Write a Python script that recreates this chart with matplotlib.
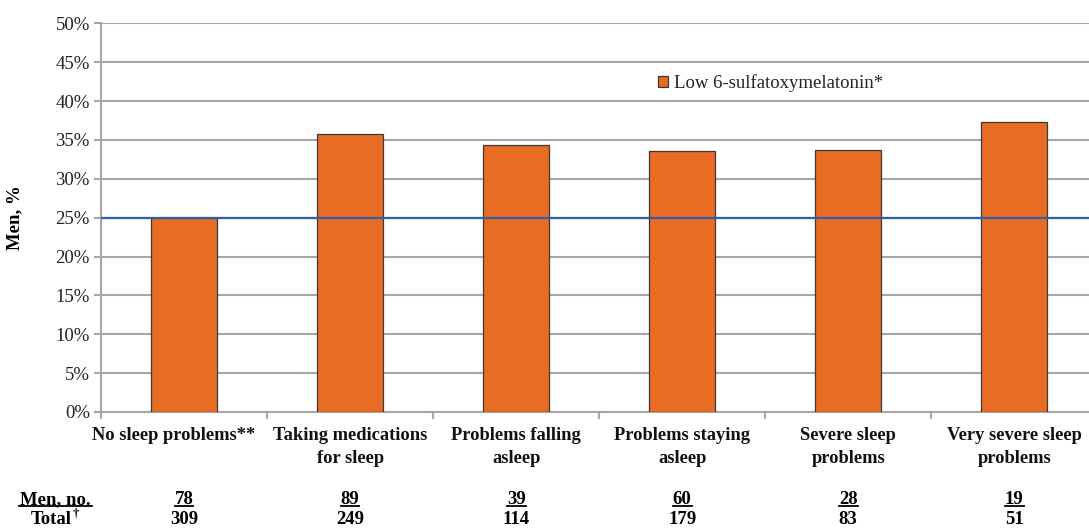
import matplotlib
matplotlib.use('Agg')
import matplotlib.pyplot as plt
from matplotlib.lines import Line2D
import numpy as np

plt.rcParams['font.family'] = ['Liberation Serif', 'DejaVu Serif']

categories = ['No sleep problems**', 'Taking medications\nfor sleep',
              'Problems falling\nasleep', 'Problems staying\nasleep',
              'Severe sleep\nproblems', 'Very severe sleep\nproblems']
low_melatonin = [25.0, 35.8, 34.3, 33.55, 33.75, 37.3]
men_no = ['78', '89', '39', '60', '28', '19']
totals = ['309', '249', '114', '179', '83', '51']
reference_line = 25.0
y_ticks = [0, 5, 10, 15, 20, 25, 30, 35, 40, 45, 50]

W, H = 1089, 528
fig = plt.figure(figsize=(W / 100, H / 100), dpi=100)
ax = fig.add_axes([101 / W, 1 - 412 / H, 1 - 101 / W, (412 - 23.3) / H])

x = np.arange(len(categories))
ax.bar(x, low_melatonin, width=0.4, color='#E86C23', edgecolor='#3a3a3a',
       linewidth=0.9, label='Low 6-sulfatoxymelatonin*', zorder=3)
ax.axhline(reference_line, color='#2F5FA5', linewidth=1.6, zorder=4)

ax.set_ylim(0, 50)
ax.set_xlim(-0.5, 5.45)
ax.set_yticks(y_ticks)
ax.set_yticklabels([f'{t}%' for t in y_ticks], fontsize=13.5, color='#222222')
ax.yaxis.grid(True, color='#a6a6a6', linewidth=1.5, zorder=0)
ax.set_axisbelow(True)

# category boundaries get the tick marks, labels sit at the bar centres
ax.set_xticks(np.arange(-0.5, 5.5, 1.0))
ax.set_xticklabels([])
ax.tick_params(axis='x', which='major', length=5, color='#a6a6a6', width=1.5)
ax.tick_params(axis='y', length=5, color='#a6a6a6', width=1.5, pad=3)

label_offsets = [-0.06, 0, 0, 0, 0, 0]
trans = ax.get_xaxis_transform()
for xi, lab, off in zip(x, categories, label_offsets):
    ax.text(xi + off, -(427 - 412) / 388.7, lab, transform=trans, ha='center',
            va='top', fontsize=13.3, fontweight='bold', linespacing=1.45,
            color='#111111')

for side in ['top', 'right']:
    ax.spines[side].set_visible(False)
for side in ['left', 'bottom']:
    ax.spines[side].set_color('#a6a6a6')
    ax.spines[side].set_linewidth(1.5)

ax.set_ylabel('Men, %', fontsize=13.5, fontweight='bold')
ax.yaxis.set_label_coords(-78 / 988, 0.5)

ax.legend(loc='center left', bbox_to_anchor=(649 / W, 1 - 83 / H),
          bbox_transform=fig.transFigure, frameon=False, fontsize=13.5,
          handlelength=0.5, handleheight=0.5, handletextpad=0.35, borderpad=0,
          labelcolor='#222222')

# table rows under the chart
row1_y = -(500 - 412) / 388.7
row2_y = -(520 - 412) / 388.7
underlined = []
t = ax.text((55.5 - 101) / 166 - 0.5, row1_y, 'Men, no.', transform=trans,
            ha='center', va='center', fontsize=13.5, fontweight='bold')
underlined.append(t)
ax.text((51 - 101) / 166 - 0.5, row2_y, 'Total', transform=trans,
        ha='center', va='center', fontsize=13.5, fontweight='bold')
ax.text((75.5 - 101) / 166 - 0.5, row2_y + 0.018, '\u2020', transform=trans,
        ha='center', va='center', fontsize=9, fontweight='bold')
for xi, n, tot in zip(x, men_no, totals):
    t = ax.text(xi, row1_y, n, transform=trans, ha='center', va='center',
                fontsize=13.5, fontweight='bold')
    underlined.append(t)
    ax.text(xi, row2_y, tot, transform=trans, ha='center', va='center',
            fontsize=13.5, fontweight='bold')

fig.canvas.draw()
renderer = fig.canvas.get_renderer()
for t in underlined:
    bb = t.get_window_extent(renderer)
    yl = (bb.y0 + 2.5) / H
    pad = 1 if t.get_text().startswith('Men') else 0
    fig.add_artist(Line2D([(bb.x0 - pad) / W, (bb.x1 + pad) / W], [yl, yl],
                          color='black', linewidth=1.3, transform=fig.transFigure))

fig.savefig('out.png', dpi=100)
